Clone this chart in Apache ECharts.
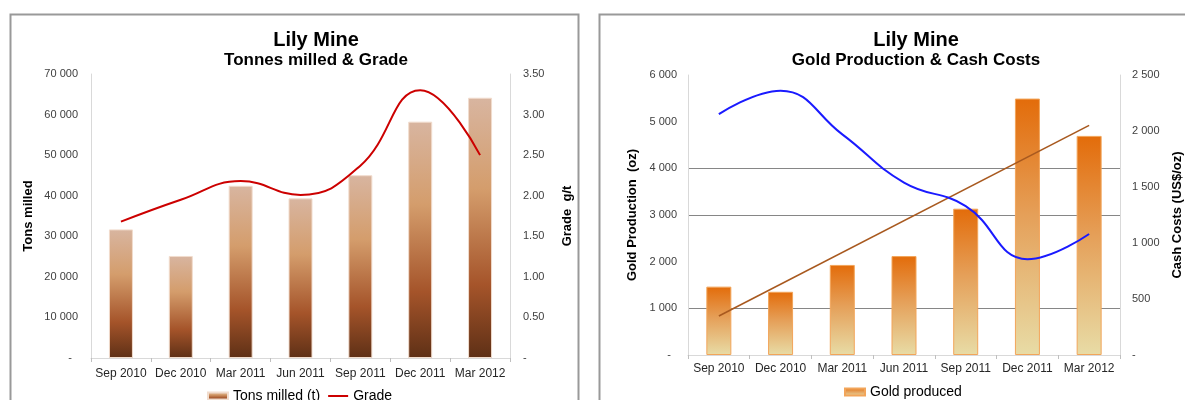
<!DOCTYPE html>
<html><head><meta charset="utf-8">
<script src="https://cdn.jsdelivr.net/npm/echarts@6/dist/echarts.min.js"></script>
<style>html,body{margin:0;padding:0;background:#fff}#c{width:1185px;height:400px}</style>
</head><body><div id="c"></div>
<script>
// ---- data ----
const quarters = ['Sep 2010','Dec 2010','Mar 2011','Jun 2011','Sep 2011','Dec 2011','Mar 2012'];
const tonsMilled = [31700, 25150, 42450, 39350, 45050, 58250, 64150];
const grade = [1.68, 1.95, 2.18, 2.01, 2.37, 3.30, 2.50];
const goldProduced = [1465, 1355, 1930, 2120, 3135, 5495, 4695];
const cashCosts = [2150, 2360, 1970, 1540, 1330, 855, 1080];
const goldTrend = [836, null, null, null, null, null, 4920];

const FF = '"Liberation Sans", Arial, sans-serif';
function fmtThousands(v){ if (v === 0) return '-  '; return String(v).replace(/\B(?=(\d{3})+(?!\d))/g, ' '); }
function fmtGrade(v){ return v === 0 ? '-' : v.toFixed(2); }

const chart = echarts.init(document.getElementById('c'), null, {renderer:'canvas'});
const G = echarts.graphic.LinearGradient;
const tonsGrad = new G(0,0,0,1,[{offset:0,color:'#d8b5a0'},{offset:0.35,color:'#d49d6c'},{offset:0.72,color:'#a5542a'},{offset:1,color:'#5e3016'}]);
const goldGrad = new G(0,0,0,1,[{offset:0,color:'#e36c0a'},{offset:0.45,color:'#e59f58'},{offset:1,color:'#e8dca6'}]);

const labelStyle = {color:'#404040', fontSize:11, fontFamily:FF};
const xLabel = {color:'#262626', fontSize:12, fontFamily:FF, interval:0};
const nameStyle = {color:'#000', fontSize:13, fontWeight:'bold', fontFamily:FF};
const lightLine = {show:true, lineStyle:{color:'#d9d9d9', width:1}};
const lineIcon = 'path://M0,0L20,0L20,2L0,2Z';

chart.setOption({
  animation:false,
  backgroundColor:'#fff',
  graphic:[
    {type:'rect', shape:{x:10.5, y:14.5, width:568, height:420}, style:{fill:null, stroke:'#999', lineWidth:2}, silent:true},
    {type:'rect', shape:{x:599.5, y:14.5, width:620, height:420}, style:{fill:null, stroke:'#999', lineWidth:2}, silent:true}
  ],
  title:[
    {text:'Lily Mine', left:311, top:25, textAlign:'center', textStyle:{fontSize:20, fontWeight:'bold', color:'#000', fontFamily:FF}},
    {text:'Tonnes milled & Grade', left:311, top:47, textAlign:'center', textStyle:{fontSize:17, fontWeight:'bold', color:'#000', fontFamily:FF}},
    {text:'Lily Mine', left:911, top:25, textAlign:'center', textStyle:{fontSize:20, fontWeight:'bold', color:'#000', fontFamily:FF}},
    {text:'Gold Production & Cash Costs', left:911, top:47, textAlign:'center', textStyle:{fontSize:17, fontWeight:'bold', color:'#000', fontFamily:FF}}
  ],
  legend:[
    {left:202, top:384, itemWidth:20, itemHeight:7, itemGap:8, textStyle:{fontSize:14, color:'#000', fontFamily:FF},
     data:[{name:'Tons milled (t)', icon:'rect'}, {name:'Grade', icon:lineIcon}]},
    {left:839, top:380, itemWidth:20, itemHeight:7, textStyle:{fontSize:14, color:'#000', fontFamily:FF},
     data:[{name:'Gold produced', icon:'rect'}]}
  ],
  grid:[
    {left:91, top:74, width:419, height:284},
    {left:688, top:75, width:436, height:280}
  ],
  xAxis:[
    {type:'category', gridIndex:0, data:quarters, boundaryGap:true,
     axisLine:lightLine, axisTick:{show:true, length:4, lineStyle:{color:'#bfbfbf'}},
     axisLabel:Object.assign({margin:10}, xLabel)},
    {type:'category', gridIndex:1, data:quarters, boundaryGap:true,
     axisLine:lightLine, axisTick:{show:true, length:4, lineStyle:{color:'#bfbfbf'}},
     axisLabel:Object.assign({margin:8}, xLabel)}
  ],
  yAxis:[
    {type:'value', gridIndex:0, min:0, max:70000, interval:10000, position:'left',
     name:'Tons milled', nameLocation:'middle', nameGap:56, nameTextStyle:nameStyle,
     axisLine:lightLine, axisTick:{show:false}, splitLine:{show:false},
     axisLabel:Object.assign({margin:13, formatter:fmtThousands}, labelStyle)},
    {type:'value', gridIndex:0, min:0, max:3.5, interval:0.5, position:'right',
     name:'Grade  g/t', nameLocation:'middle', nameGap:51, nameTextStyle:nameStyle,
     axisLine:lightLine, axisTick:{show:false}, splitLine:{show:false},
     axisLabel:Object.assign({margin:13, formatter:fmtGrade}, labelStyle)},
    {type:'value', gridIndex:1, min:0, max:6000, interval:1000, position:'left',
     name:'Gold Production  (oz)', nameLocation:'middle', nameGap:49, nameTextStyle:nameStyle,
     axisLine:lightLine, axisTick:{show:false},
     splitLine:{show:true, lineStyle:{width:1, color:['rgba(0,0,0,0)','#868686','rgba(0,0,0,0)','#868686','#868686','rgba(0,0,0,0)','rgba(0,0,0,0)']}},
     axisLabel:Object.assign({margin:11, formatter:fmtThousands}, labelStyle)},
    {type:'value', gridIndex:1, min:0, max:2500, interval:500, position:'right',
     name:'Cash Costs (US$/oz)', nameLocation:'middle', nameGap:51, nameTextStyle:nameStyle,
     axisLine:lightLine, axisTick:{show:false}, splitLine:{show:false},
     axisLabel:Object.assign({margin:12, formatter:fmtThousands}, labelStyle)}
  ],
  series:[
    {name:'Tons milled (t)', type:'bar', xAxisIndex:0, yAxisIndex:0, data:tonsMilled, barWidth:24,
     itemStyle:{color:tonsGrad, borderColor:'#f1dccd', borderWidth:1}},
    {name:'Grade', type:'line', xAxisIndex:0, yAxisIndex:1, data:grade, smooth:0.45, symbol:'none', showSymbol:false,
     lineStyle:{color:'#cc0000', width:2}, itemStyle:{color:'#cc0000'}},
    {name:'Gold produced', type:'bar', xAxisIndex:1, yAxisIndex:2, data:goldProduced, barWidth:25,
     itemStyle:{color:goldGrad, borderColor:'#f2a55a', borderWidth:1}},
    {name:'Trend', type:'line', xAxisIndex:1, yAxisIndex:2, data:goldTrend, connectNulls:true, symbol:'none', showSymbol:false,
     lineStyle:{color:'#a8591f', width:1.6}, z:3},
    {name:'Cash costs', type:'line', xAxisIndex:1, yAxisIndex:3, data:cashCosts, smooth:0.45, symbol:'none', showSymbol:false,
     lineStyle:{color:'#1a1aff', width:2}, z:4}
  ]
});
</script></body></html>
